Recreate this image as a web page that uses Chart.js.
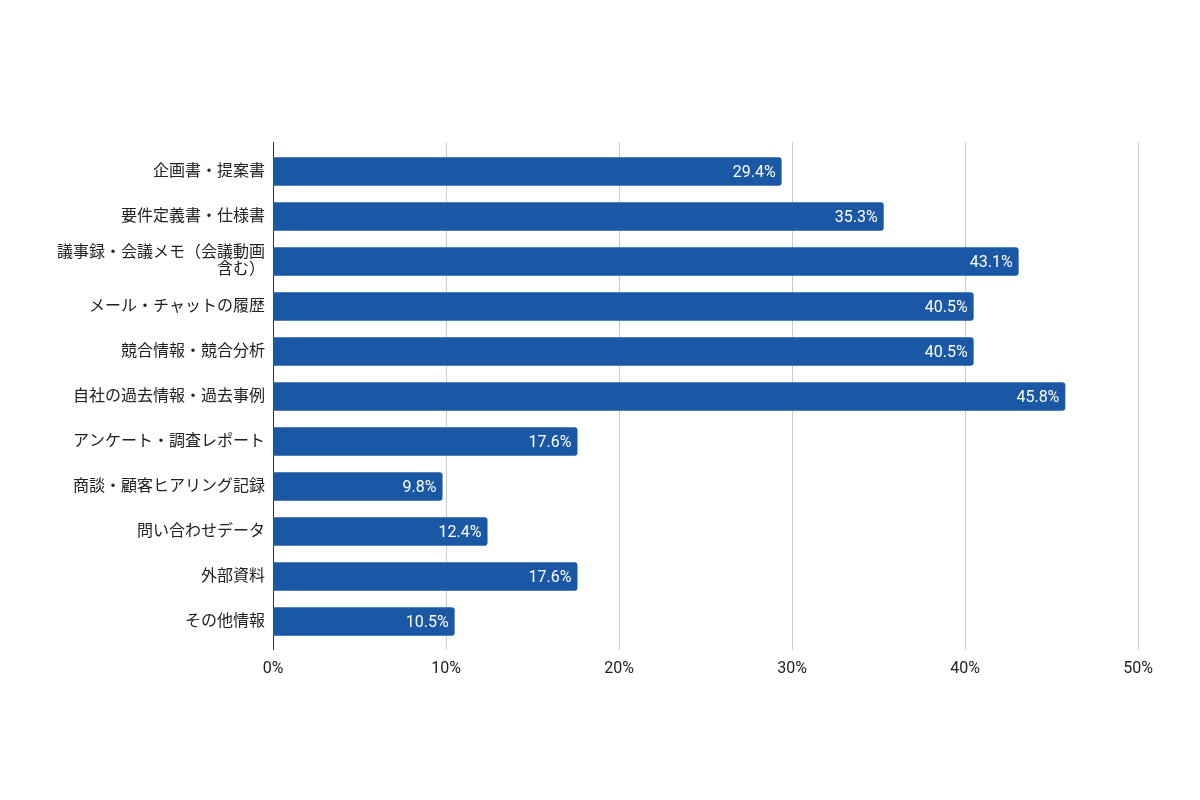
<!DOCTYPE html>
<html lang="ja">
<head>
  <meta charset="UTF-8">
  <title>情報ソース</title>
  <script src="https://cdn.jsdelivr.net/npm/chart.js"></script>
  <style>
    body { margin: 0; background: #fff; }
    #wrap { width: 1200px; height: 800px; }
  </style>
</head>
<body>
  <div id="wrap"><canvas id="chart" width="1200" height="800"></canvas></div>

<script>
// カテゴリとデータ
const categories = [
  "企画書・提案書",
  "要件定義書・仕様書",
  ["議事録・会議メモ（会議動画", "含む）"],
  "メール・チャットの履歴",
  "競合情報・競合分析",
  "自社の過去情報・過去事例",
  "アンケート・調査レポート",
  "商談・顧客ヒアリング記録",
  "問い合わせデータ",
  "外部資料",
  "その他情報"
];
const values = [29.4, 35.3, 43.1, 40.5, 40.5, 45.8, 17.6, 9.8, 12.4, 17.6, 10.5];
const xTicks = [0, 10, 20, 30, 40, 50];

const fontFamily = "Roboto, 'Noto Sans CJK JP', sans-serif";

// グリッド線と軸線（少し上下にはみ出す）
const gridPlugin = {
  id: "gridPlugin",
  beforeDatasetsDraw(chart) {
    const ctx = chart.ctx;
    const area = chart.chartArea;
    const x = chart.scales.x;
    ctx.save();
    ctx.lineWidth = 1;
    ctx.strokeStyle = "#cccccc";
    xTicks.forEach(t => {
      if (t === 0) return;
      const px = Math.round(x.getPixelForValue(t)) + 0.5;
      ctx.beginPath();
      ctx.moveTo(px, area.top - 7);
      ctx.lineTo(px, area.bottom + 6);
      ctx.stroke();
    });
    ctx.strokeStyle = "#333333";
    const x0 = Math.round(x.getPixelForValue(0)) + 0.5;
    ctx.beginPath();
    ctx.moveTo(x0, area.top - 7);
    ctx.lineTo(x0, area.bottom + 6);
    ctx.stroke();
    ctx.restore();
  }
};

// バー内のラベル
const labelPlugin = {
  id: "labelPlugin",
  afterDatasetsDraw(chart) {
    const ctx = chart.ctx;
    const meta = chart.getDatasetMeta(0);
    ctx.save();
    ctx.fillStyle = "#ffffff";
    ctx.font = "16px " + fontFamily;
    ctx.textAlign = "right";
    ctx.textBaseline = "middle";
    meta.data.forEach((bar, i) => {
      ctx.fillText(values[i].toFixed(1) + "%", bar.x - 6, bar.y + 1);
    });
    ctx.restore();
  }
};

new Chart(document.getElementById("chart"), {
  type: "bar",
  data: {
    labels: categories,
    datasets: [{
      data: values,
      backgroundColor: "#1a58a6",
      borderRadius: 3,
      borderSkipped: "start",
      barPercentage: 0.633,
      categoryPercentage: 1
    }]
  },
  options: {
    indexAxis: "y",
    responsive: false,
    animation: false,
    layout: {
      padding: { left: 0, right: 62, top: 149, bottom: 116 }
    },
    plugins: {
      legend: { display: false },
      tooltip: { enabled: false }
    },
    scales: {
      x: {
        min: 0,
        max: 50,
        afterFit(scale) { scale.height = 40; },
        afterBuildTicks(scale) { scale.ticks = xTicks.map(v => ({ value: v })); },
        grid: { display: false },
        border: { display: false },
        ticks: {
          padding: 7,
          color: "#222",
          font: { family: fontFamily, size: 16 },
          callback: v => v + "%"
        }
      },
      y: {
        afterFit(scale) { scale.width = 273; },
        grid: { display: false },
        border: { display: false },
        ticks: {
          padding: 0,
          color: "#222",
          font: { family: fontFamily, size: 16, lineHeight: 1.05 }
        }
      }
    }
  },
  plugins: [gridPlugin, labelPlugin]
});
</script>
</body>
</html>
